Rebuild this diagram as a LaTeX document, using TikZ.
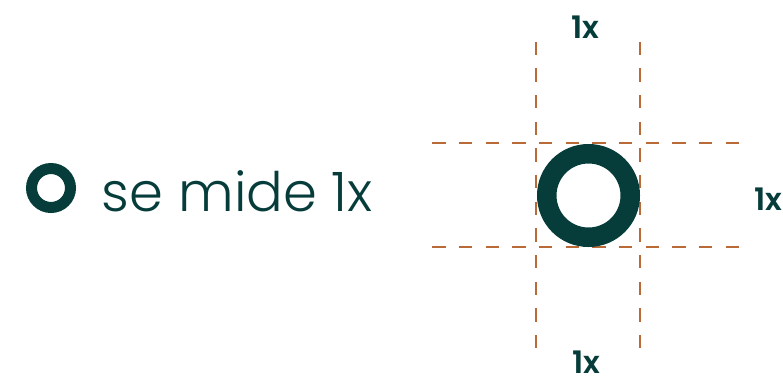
\documentclass[tikz,border=0pt]{standalone}
\usepackage{fontspec}
\setmainfont{Poppins}
\newfontfamily\lightfont{Poppins Light}
\newfontfamily\boldfont{Poppins SemiBold}
\usepackage{graphicx}
\definecolor{teal}{HTML}{063D3B}
\definecolor{guide}{HTML}{B96A36}
\tikzset{
  guideline/.style={draw=guide, line width=2.4pt, dash pattern=on 13.33pt off 13.33pt},
  ring/.style={draw=teal},
  unitlabel/.style={inner sep=0pt, text=teal, font=\boldfont\fontsize{31}{31}\selectfont},
}
\begin{document}
\begin{tikzpicture}[x=1pt,y=-1pt]
\path[use as bounding box] (0,0) rectangle (783,380);
% left icon
\coordinate (smallc) at (51,188);
\draw[ring, line width=11pt] (smallc) circle[radius=19.5];
\node[inner sep=0pt, anchor=base west, text=teal] (caption) at (101.7,211.7)
  {\resizebox{271pt}{!}{\lightfont\fontsize{50}{50}\selectfont se mide 1x}};
% guides
\coordinate (v1t) at (536,41.7); \coordinate (v1b) at (536,349);
\coordinate (v2t) at (640,41.7); \coordinate (v2b) at (640,349);
\coordinate (h1l) at (432.3,142.7); \coordinate (h1r) at (739.6,142.7);
\coordinate (h2l) at (432.3,246.7); \coordinate (h2r) at (739.6,246.7);
\draw[guideline] (v1t) -- (v1b);
\draw[guideline] (v2t) -- (v2b);
\draw[guideline] (h1l) -- (h1r);
\draw[guideline] (h2l) -- (h2r);
% big ring
\coordinate (bigc) at (588.5,195.5);
\draw[ring, line width=19.5pt] (bigc) circle[radius=41.75];
% labels
\node[unitlabel, anchor=base] (top) at (585.5,38) {1x};
\node[unitlabel, anchor=base west] (right) at (754,210) {1x};
\node[unitlabel, anchor=base] (bottom) at (586,373.5) {1x};
\end{tikzpicture}
\end{document}
